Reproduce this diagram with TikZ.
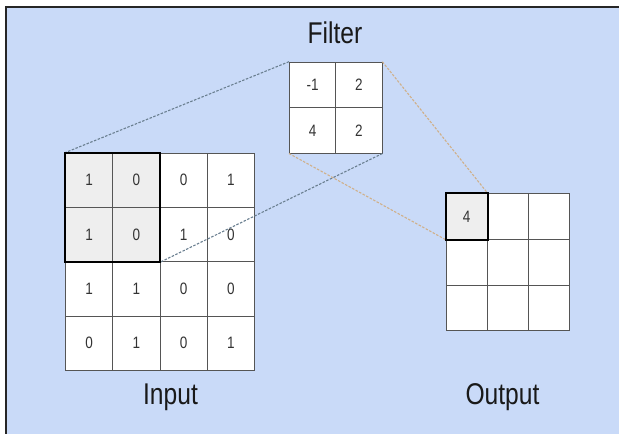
\documentclass[tikz,border=0pt]{standalone}
\usepackage{fontspec}
\usepackage{graphicx}
\setmainfont{Liberation Sans}
\definecolor{bgblue}{HTML}{C9DAF8}
\definecolor{cellgray}{HTML}{EEEEEE}
\definecolor{gridgray}{HTML}{555555}
\definecolor{blueline}{HTML}{6A7F90}
\definecolor{tanline}{HTML}{D0B08A}
\newcommand{\cnd}[1]{\scalebox{0.82}[1]{#1}}
\begin{document}
\begin{tikzpicture}[x=1pt,y=-1pt,
  cell/.style={draw=gridgray, line width=0.8pt, fill=white, inner sep=0pt, anchor=north west,
    font=\fontsize{16.5}{19}\selectfont, text=black!80},
  incell/.style={cell, minimum width=47.25pt, minimum height=54.3pt},
  fcell/.style={cell, minimum width=46.3pt, minimum height=45.5pt},
  ocell/.style={cell, minimum width=41.2pt, minimum height=45.6pt},
  hilite/.style={draw=black, line width=2pt},
  title/.style={anchor=base, font=\fontsize{30}{36}\selectfont, text=black!90},
  linkblue/.style={draw=blueline, line width=1.1pt, dash pattern=on 2.5pt off 1.5pt},
  linktan/.style={draw=tanline, line width=1.1pt, dash pattern=on 2.5pt off 1.5pt}]
\useasboundingbox (0,0) rectangle (619,434);
\fill[white] (0,0) rectangle (619,434);
\fill[bgblue] (6,7) rectangle (630,440);
\draw[line width=2pt, black!85] (6,440) -- (6,7) -- (630,7);

% Input grid
\foreach \r/\c/\v/\f in {1/1/1/cellgray,1/2/0/cellgray,1/3/0/white,1/4/1/white,
                      2/1/1/cellgray,2/2/0/cellgray,2/3/1/white,2/4/0/white,
                      3/1/1/white,3/2/1/white,3/3/0/white,3/4/0/white,
                      4/1/0/white,4/2/1/white,4/3/0/white,4/4/1/white}
  \node[incell, fill=\f] (in-\r\c) at ({65+(\c-1)*47.25},{152.7+(\r-1)*54.3}) {\cnd{\v}};

% Filter grid
\foreach \r/\c/\v in {1/1/-1,1/2/2,2/1/4,2/2/2}
  \node[fcell] (f-\r\c) at ({289+(\c-1)*46.3},{61.7+(\r-1)*45.5}) {\cnd{\v}};

% Output grid
\foreach \r/\c/\v/\f in {1/1/4/cellgray,1/2//white,1/3//white,
                         2/1//white,2/2//white,2/3//white,
                         3/1//white,3/2//white,3/3//white}
  \node[ocell, fill=\f] (out-\r\c) at ({445.7+(\c-1)*41.2},{193.3+(\r-1)*45.6}) {\cnd{\v}};

% Connectors
\draw[linkblue] (f-11.north west) -- (in-11.north west);
\draw[linkblue] (f-22.south east) -- (in-22.south east);
\draw[linktan] (f-12.north east) -- (out-11.north east);
\draw[linktan] (f-21.south west) -- (out-11.south west);

% Highlights
\draw[hilite] (in-11.north west) rectangle (in-22.south east);
\draw[hilite] (out-11.north west) rectangle (out-11.south east);

% Labels
\node[title] (lbl-filter) at (335,43.3) {\cnd{Filter}};
\node[title] (lbl-input) at (170.5,404) {\cnd{Input}};
\node[title] (lbl-output) at (502.5,404.5) {\cnd{Output}};
\end{tikzpicture}
\end{document}
